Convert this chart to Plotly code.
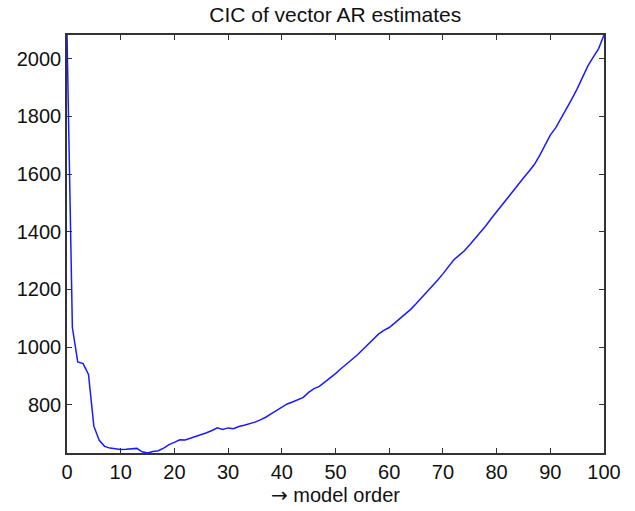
import plotly.graph_objects as go

model_order = list(range(0, 101))
cic_values = [
    2082, 1068, 949, 943, 905, 726, 677, 656, 650, 648,
    645, 646, 648, 649, 637, 633, 638, 641, 650, 662,
    670, 679, 678, 684, 690, 697, 703, 711, 720, 715,
    720, 717, 725, 729, 734, 740, 748, 757, 769, 781,
    794, 803, 810, 817, 826, 843, 856, 864, 878, 892,
    908, 925, 940, 955, 972, 990, 1008, 1026, 1045, 1058,
    1068, 1083, 1098, 1114, 1131, 1150, 1170, 1190, 1210, 1232,
    1254, 1278, 1302, 1318, 1334, 1355, 1376, 1397, 1421, 1446,
    1470, 1494, 1517, 1540, 1563, 1586, 1609, 1632, 1664, 1700,
    1735, 1760, 1792, 1826, 1860, 1895, 1935, 1975, 2005, 2035,
    2082,
]
x_ticks = [0, 10, 20, 30, 40, 50, 60, 70, 80, 90, 100]
y_ticks = [800, 1000, 1200, 1400, 1600, 1800, 2000]

FONT = "Liberation Sans, Arial, Helvetica, sans-serif"

fig = go.Figure()
fig.add_trace(go.Scatter(
    x=model_order, y=cic_values, mode="lines",
    line=dict(color="#1a1aff", width=1.5),
    showlegend=False,
))

axis_common = dict(
    showgrid=False, zeroline=False, showline=True, mirror="ticks",
    linecolor="#333333", linewidth=1.5,
    ticks="inside", ticklen=5, tickwidth=1, tickcolor="#333333",
    tickfont=dict(family=FONT, size=20, color="#111111"),
)

fig.update_layout(
    width=635, height=511,
    margin=dict(l=67, r=31, t=35, b=52),
    paper_bgcolor="white", plot_bgcolor="white",
    title=dict(text="CIC of vector AR estimates", x=0.528, xanchor="center",
               y=0.971, yanchor="middle", yref="container",
               font=dict(family=FONT, size=21, color="#111111")),
    xaxis=dict(range=[0, 100], tickvals=x_ticks,
               title=dict(text="<span style=\"font-family:'DejaVu Sans'\">→</span> model order",
                          standoff=2,
                          font=dict(family=FONT, size=20, color="#111111")),
               **axis_common),
    yaxis=dict(range=[633, 2082], tickvals=y_ticks, **axis_common),
)

fig.write_html("out.html")
